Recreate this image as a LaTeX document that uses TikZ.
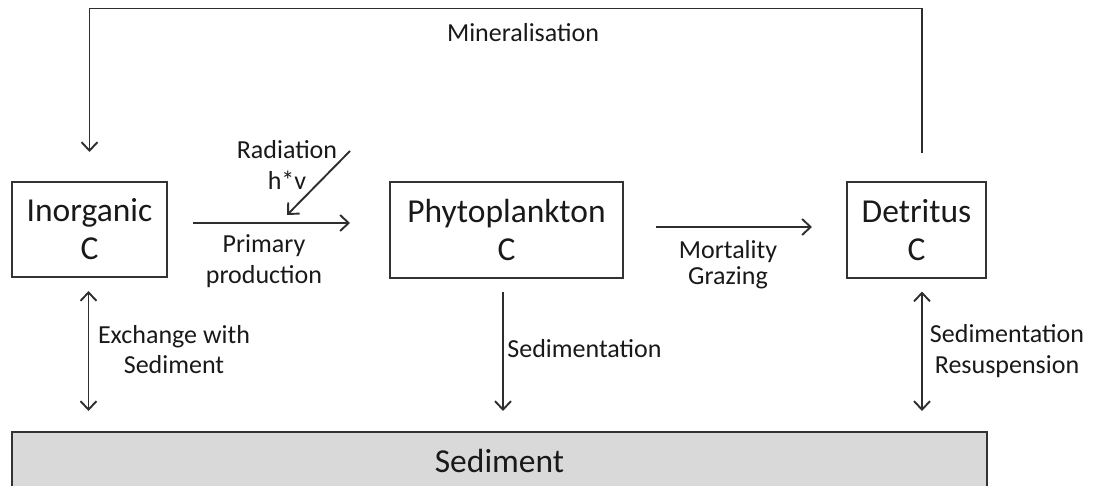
\documentclass[tikz,border=0pt]{standalone}
\usepackage{fontspec}
\setmainfont{Carlito}
\usetikzlibrary{arrows.meta}
\begin{document}
\begin{tikzpicture}[x=1pt,y=-1pt,
  box/.style={draw=black!80, line width=2pt, inner sep=0pt, font=\fontsize{33.5}{38}\selectfont, align=center, text=black!90},
  lbl/.style={font=\fontsize{26}{31}\selectfont, align=center, inner sep=0pt, text=black!90, anchor=base},
  tipx/.tip={Straight Barb[length=8.5pt,width=16pt]},
  arr/.style={line width=1.9pt, draw=black!82, -tipx},
  darr/.style={line width=1.9pt, draw=black!82, tipx-tipx}]
\useasboundingbox (0,0) rectangle (1099,486);
% boxes
\node[box, minimum width=155pt, minimum height=95pt] (inorg) at (89.5,229.5) {Inorganic\\C};
\node[box, minimum width=233pt, minimum height=95pt] (phyto) at (506.5,230) {Phytoplankton\\C};
\node[box, minimum width=139pt, minimum height=95pt] (detr) at (916.5,230) {Detritus\\C};
\node[box, fill=black!15, minimum width=975pt, minimum height=57pt] (sed) at (499.5,460.5) {Sediment};
% labels (anchor=base: baseline of the last line)
\node[lbl] (lmin) at (523,42) {Mineralisation};
\node[lbl] (lrad) at (287,190) {Radiation\\h*v};
\node[lbl] (lprim) at (264,283) {Primary\\production};
\node[lbl, font=\fontsize{26}{26}\selectfont] (lmort) at (728,284) {Mortality\\Grazing};
\node[lbl, font=\fontsize{26}{30}\selectfont] (lexch) at (174,373) {Exchange with\\Sediment};
\node[lbl] (lsed) at (584.5,357) {Sedimentation};
\node[lbl] (lres) at (1007,373) {Sedimentation\\Resuspension};
% connectors
\coordinate (radS) at (350,151);
\coordinate (radE) at (287,215);
\draw[arr] ([xshift=25pt,yshift=6.5pt]inorg.east) -- ([xshift=-39pt,yshift=7pt]phyto.west);
\draw[arr] (radS) -- (radE);
\draw[arr] ([xshift=32pt,yshift=3pt]phyto.east) -- ([xshift=-34pt,yshift=3pt]detr.west);
\draw[arr] ([xshift=5.5pt,yshift=28pt]detr.north) -- ++(0,-145) -| ([yshift=29pt]inorg.north);
\draw[darr, shorten <=13pt, shorten >=20pt] ([xshift=-1pt]inorg.south) -- ([xshift=-1pt]inorg.south |- sed.north);
\draw[arr, shorten <=13pt, shorten >=20pt] ([xshift=-3.5pt]phyto.south) -- ([xshift=-3.5pt]phyto.south |- sed.north);
\draw[darr, shorten <=13pt, shorten >=20pt] ([xshift=5.5pt]detr.south) -- ([xshift=5.5pt]detr.south |- sed.north);
\end{tikzpicture}
\end{document}
